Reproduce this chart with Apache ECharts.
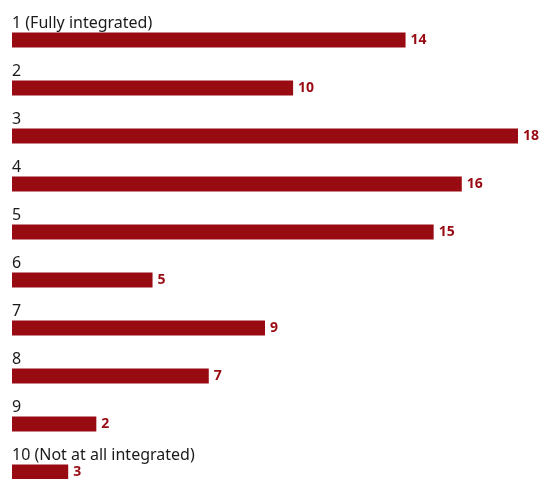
<!DOCTYPE html>
<html><head><meta charset="utf-8">
<script src="https://cdn.jsdelivr.net/npm/echarts@6/dist/echarts.min.js"></script>
<style>html,body{margin:0;padding:0;background:#fff}#c{width:539px;height:479px}</style>
</head><body><div id="c"></div>
<script>
var categories = ['1 (Fully integrated)','2','3','4','5','6','7','8','9','10 (Not at all integrated)'];
var values = [14,10,18,16,15,5,9,7,3,2];
var valueLabels = ['14','10','18','16','15','5','9','7','2','3'];

var chart = echarts.init(document.getElementById('c'));
chart.setOption({
  animation: false,
  grid: {left: 12, top: 16, width: 506, height: 480, containLabel: false, outerBoundsMode: 'none'},
  xAxis: {type: 'value', min: 0, max: 18, show: false},
  yAxis: {
    type: 'category', data: categories, inverse: true,
    axisLine: {show: false}, axisTick: {show: false}, splitLine: {show: false},
    axisLabel: {
      inside: true, margin: 0, align: 'left', verticalAlign: 'bottom',
      padding: [0, 0, 9, 0],
      fontFamily: 'Noto Sans', fontSize: 16, color: '#1a1a1a'
    }
  },
  series: [{
    type: 'bar', data: values, barWidth: 15,
    itemStyle: {color: '#990b13'},
    label: {
      show: true, position: 'right', distance: 5,
      fontFamily: 'Noto Sans', fontWeight: 'bold', fontSize: 14, color: '#990b13',
      formatter: function (p) { return valueLabels[p.dataIndex]; }
    }
  }]
});
</script></body></html>
